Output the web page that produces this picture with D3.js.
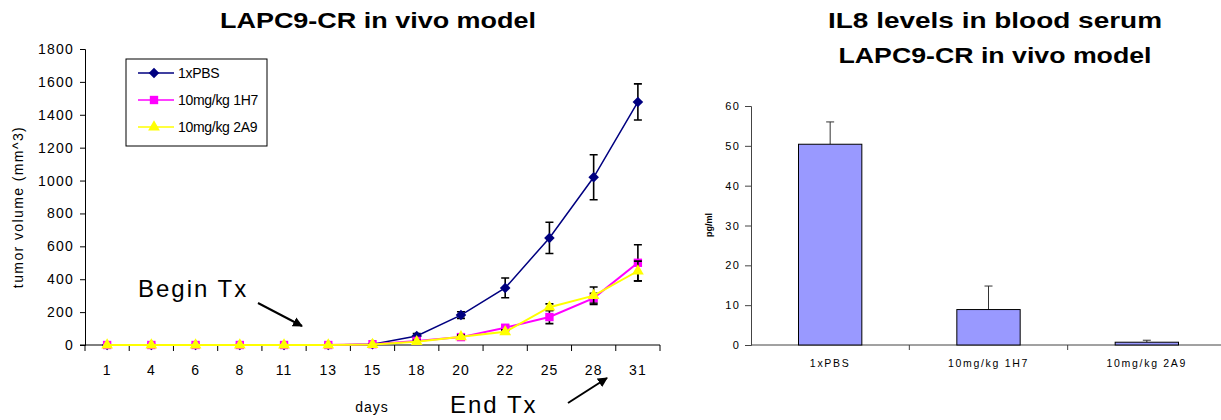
<!DOCTYPE html>
<html>
<head>
  <meta charset="utf-8">
  <title>LAPC9-CR in vivo model</title>
  <style type="text/css">
    body { margin: 0; background: #fff; }
    svg { display: block; }
    .title { font-family: "DejaVu Sans", Verdana, sans-serif; font-weight: bold; font-size: 22px; }
    .left text { font-family: "Liberation Sans", Arial, sans-serif; }
    .right text { font-family: "Liberation Sans", Arial, sans-serif; }
  </style>
  <script type="text/javascript" src="https://cdn.jsdelivr.net/npm/d3@7/dist/d3.min.js"></script>
</head>
<body>
  <script>
    // tumor growth, left chart
    var days = ['1', '4', '6', '8', '11', '13', '15', '18', '20', '22', '25', '28', '31'];
    var pbsValues = [0, 0, 0, 0, 0, 0, 5, 55, 182, 347, 651, 1020, 1478];
    var pbsErrors = [0, 0, 0, 0, 0, 0, 3, 15, 20, 60, 95, 137, 110];
    var h7Values = [0, 0, 0, 0, 0, 0, 5, 25, 48, 105, 170, 285, 500];
    var h7Errors = [0, 0, 0, 0, 0, 0, 2, 8, 10, 15, 40, 30, 110];
    var a9Values = [0, 0, 0, 0, 0, 0, 3, 20, 50, 80, 230, 300, 450];
    var a9Errors = [0, 0, 0, 0, 0, 0, 2, 8, 10, 12, 20, 53, 60];
    var volumeTicks = [0, 200, 400, 600, 800, 1000, 1200, 1400, 1600, 1800];

    // IL8 serum levels, right chart
    var groups = ['1xPBS', '10mg/kg 1H7', '10mg/kg 2A9'];
    var il8Values = [50.4, 8.9, 0.7];
    var il8Errors = [5.6, 5.9, 0.5];
    var il8Ticks = [0, 10, 20, 30, 40, 50, 60];

    var series = [
      { name: '1xPBS', values: pbsValues, errors: pbsErrors, color: '#000080', symbol: d3.symbolSquare, size: 56, rotate: 45 },
      { name: '10mg/kg 1H7', values: h7Values, errors: h7Errors, color: '#FF00FF', symbol: d3.symbolSquare, size: 70, rotate: 0 },
      { name: '10mg/kg 2A9', values: a9Values, errors: a9Errors, color: '#FFFF00', symbol: d3.symbolTriangle, size: 60, rotate: 0 }
    ];

    var svg = d3.select('body').append('svg')
      .attr('width', 1221)
      .attr('height', 420);

    // 箭頭
    svg.append('defs').append('marker')
      .attr('id', 'head')
      .attr('viewBox', '0 0 10 10')
      .attr('refX', 9).attr('refY', 5)
      .attr('markerWidth', 5).attr('markerHeight', 5)
      .attr('orient', 'auto')
      .append('path')
      .attr('d', 'M0,0 L10,5 L0,10 z')
      .attr('fill', '#000');

    // 標題，寬度對齊原圖
    function title(g, tx, ty, str, len) {
      g.append('text')
        .attr('class', 'title')
        .attr('x', tx).attr('y', ty)
        .attr('text-anchor', 'middle')
        .attr('textLength', len)
        .attr('lengthAdjust', 'spacingAndGlyphs')
        .text(str);
    }

    // ---------- left chart ----------
    var left = svg.append('g').classed('left', true);

    var x = d3.scaleBand().domain(days).range([85, 660]);
    var y = d3.scaleLinear().domain([0, 1800]).range([345, 49]);

    title(left, 378, 28, 'LAPC9-CR in vivo model', 316);

    var yAxis = left.append('g')
      .attr('transform', 'translate(85,0)')
      .call(d3.axisLeft(y).tickValues(volumeTicks).tickFormat(d3.format('d')).tickSize(5).tickPadding(6));
    yAxis.selectAll('text').style('font-size', '14px').style('letter-spacing', '1.2px').attr('fill', '#000');
    yAxis.selectAll('line, path').attr('stroke', '#000');

    var xAxis = left.append('g')
      .attr('transform', 'translate(0,345)')
      .call(d3.axisBottom(x).tickSize(0).tickPadding(20));
    xAxis.selectAll('text').style('font-size', '14px').style('letter-spacing', '1px').attr('fill', '#000');
    xAxis.select('.domain').attr('stroke', '#000').attr('d', 'M80,0H660');

    // ticks at the category boundaries
    left.selectAll('.bound')
      .data(days.map(d => x(d)).concat([x.range()[1]]))
      .enter()
      .append('line')
      .attr('x1', d => d).attr('x2', d => d)
      .attr('y1', 345).attr('y2', 351)
      .attr('stroke', '#000');

    left.append('text')
      .attr('transform', 'translate(23,207) rotate(-90)')
      .attr('text-anchor', 'middle')
      .style('font-size', '14px')
      .style('letter-spacing', '1.4px')
      .text('tumor volume (mm^3)');

    left.append('text')
      .attr('x', 372).attr('y', 412)
      .attr('text-anchor', 'middle')
      .style('font-size', '14px')
      .style('letter-spacing', '1px')
      .text('days');

    var line = d3.line()
      .x((d, i) => x(days[i]) + x.bandwidth() / 2)
      .y(d => y(d));

    series.forEach(s => {
      var g = left.append('g');
      // error bars
      s.values.forEach((v, i) => {
        if (!s.errors[i]) return;
        var cx = x(days[i]) + x.bandwidth() / 2;
        g.append('path')
          .attr('d', `M${cx - 4},${y(v + s.errors[i])}H${cx + 4}M${cx},${y(v + s.errors[i])}V${y(v - s.errors[i])}M${cx - 4},${y(v - s.errors[i])}H${cx + 4}`)
          .attr('stroke', '#000')
          .attr('stroke-width', 1.6)
          .attr('fill', 'none');
      });
      g.append('path')
        .attr('d', line(s.values))
        .attr('fill', 'none')
        .attr('stroke', s.color)
        .attr('stroke-width', s.name === '1xPBS' ? 1.5 : 2);
      g.selectAll('.pt')
        .data(s.values)
        .enter()
        .append('path')
        .attr('transform', (d, i) => `translate(${x(days[i]) + x.bandwidth() / 2},${y(d)}) rotate(${s.rotate})`)
        .attr('d', d3.symbol().type(s.symbol).size(s.size))
        .attr('fill', s.color);
    });

    // legend
    var legend = left.append('g');
    legend.append('rect')
      .attr('x', 126).attr('y', 59)
      .attr('width', 141).attr('height', 87)
      .attr('fill', '#fff')
      .attr('stroke', '#000');
    series.forEach((s, i) => {
      var ly = 73 + i * 27;
      legend.append('line')
        .attr('x1', 138).attr('x2', 174)
        .attr('y1', ly).attr('y2', ly)
        .attr('stroke', s.color).attr('stroke-width', 1.6);
      legend.append('path')
        .attr('transform', `translate(154,${ly}) rotate(${s.rotate})`)
        .attr('d', d3.symbol().type(s.symbol).size(s.size))
        .attr('fill', s.color);
      legend.append('text')
        .attr('x', 178).attr('y', ly + 5)
        .style('font-size', '14px')
        .style('letter-spacing', '-0.3px')
        .text(s.name);
    });

    // annotations
    left.append('text')
      .attr('x', 138).attr('y', 297)
      .style('font-size', '24px')
      .style('letter-spacing', '2px')
      .text('Begin Tx');
    left.append('line')
      .attr('x1', 258).attr('y1', 303)
      .attr('x2', 302).attr('y2', 326)
      .attr('stroke', '#000').attr('stroke-width', 2)
      .attr('marker-end', 'url(#head)');

    left.append('text')
      .attr('x', 450).attr('y', 413)
      .style('font-size', '24px')
      .style('letter-spacing', '2px')
      .text('End Tx');
    left.append('line')
      .attr('x1', 568).attr('y1', 403)
      .attr('x2', 607).attr('y2', 378)
      .attr('stroke', '#000').attr('stroke-width', 2)
      .attr('marker-end', 'url(#head)');

    // ---------- right chart ----------
    var right = svg.append('g').classed('right', true);

    var bx = d3.scaleBand().domain(groups).range([751, 1226]).paddingInner(0.6).paddingOuter(0.3);
    var by = d3.scaleLinear().domain([0, 60]).range([345, 106]);
    var step = bx.step();

    title(right, 995, 28, 'IL8 levels in blood serum', 334);
    title(right, 995, 63, 'LAPC9-CR in vivo model', 313);

    var byAxis = right.append('g')
      .attr('transform', 'translate(751,0)')
      .call(d3.axisLeft(by).tickValues(il8Ticks).tickSize(6).tickPadding(5));
    byAxis.selectAll('text').style('font-size', '11px').style('letter-spacing', '1.2px').attr('fill', '#000');
    byAxis.selectAll('line, path').attr('stroke', '#444');

    right.append('line')
      .attr('x1', 751).attr('x2', 1221)
      .attr('y1', 345).attr('y2', 345)
      .attr('stroke', '#444');

    right.selectAll('.btick')
      .data(groups.slice(1))
      .enter()
      .append('line')
      .attr('x1', d => bx(d) - (step - bx.bandwidth()) / 2)
      .attr('x2', d => bx(d) - (step - bx.bandwidth()) / 2)
      .attr('y1', 345).attr('y2', 350)
      .attr('stroke', '#444');

    right.selectAll('.glabel')
      .data(groups)
      .enter()
      .append('text')
      .attr('x', d => bx(d) + bx.bandwidth() / 2)
      .attr('y', 367)
      .attr('text-anchor', 'middle')
      .style('font-size', '10.5px')
      .style('letter-spacing', '1.7px')
      .text(d => d);

    right.append('text')
      .attr('transform', 'translate(712,225) rotate(-90)')
      .attr('text-anchor', 'middle')
      .style('font-size', '9px')
      .style('font-weight', 'bold')
      .text('pg/ml');

    right.selectAll('.err')
      .data(groups)
      .enter()
      .append('path')
      .attr('d', (d, i) => {
        var cx = bx(d) + bx.bandwidth() / 2;
        var top = by(il8Values[i] + il8Errors[i]);
        return `M${cx},${by(il8Values[i])}V${top}M${cx - 4},${top}H${cx + 4}`;
      })
      .attr('stroke', '#333')
      .attr('fill', 'none');

    right.selectAll('.bar')
      .data(groups)
      .enter()
      .append('rect')
      .attr('x', d => bx(d))
      .attr('y', (d, i) => by(il8Values[i]))
      .attr('width', bx.bandwidth())
      .attr('height', (d, i) => by(0) - by(il8Values[i]))
      .attr('fill', '#9999FF')
      .attr('stroke', '#000');
  </script>
</body>
</html>
